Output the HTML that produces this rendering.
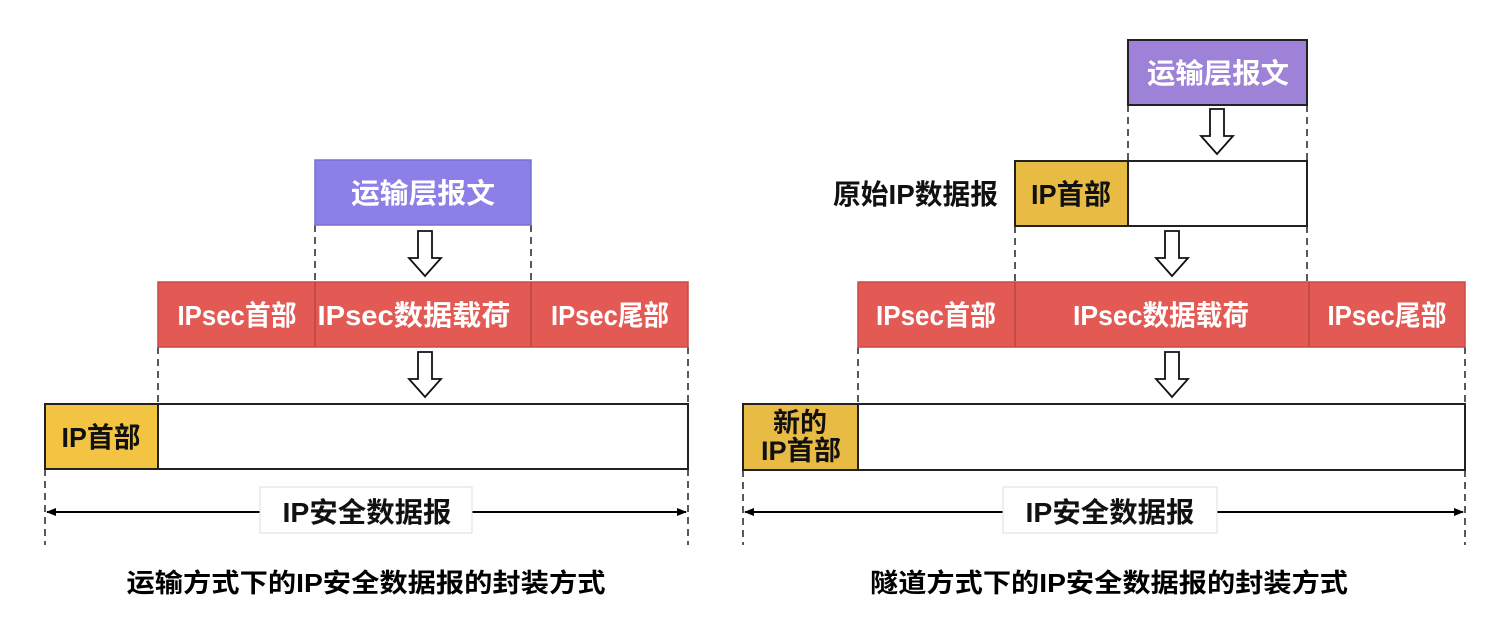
<!DOCTYPE html>
<html><head><meta charset="utf-8"><style>
html,body{margin:0;padding:0;background:#fff;}
svg text{font-family:"Liberation Sans","Noto Sans CJK SC",sans-serif;font-weight:bold;}
</style></head><body>
<svg width="1508" height="630" viewBox="0 0 1508 630" xmlns="http://www.w3.org/2000/svg">
<defs>
<marker id="ah" markerWidth="10" markerHeight="10" refX="9" refY="5" orient="auto" markerUnits="userSpaceOnUse"><path d="M0,1 L10,5 L0,9 Z" fill="#000"/></marker>
<marker id="ahs" markerWidth="10" markerHeight="10" refX="1" refY="5" orient="auto" markerUnits="userSpaceOnUse"><path d="M10,1 L0,5 L10,9 Z" fill="#000"/></marker>
</defs>
<g stroke="#222" stroke-width="1.5" stroke-dasharray="7,5" fill="none">
<!-- left -->
<line x1="315" y1="225" x2="315" y2="282"/><line x1="531" y1="225" x2="531" y2="282"/>
<line x1="158" y1="347" x2="158" y2="404"/><line x1="688" y1="347" x2="688" y2="404"/>
<line x1="45" y1="469" x2="45" y2="545"/><line x1="688" y1="469" x2="688" y2="545"/>
<!-- right -->
<line x1="1128" y1="105" x2="1128" y2="161"/><line x1="1307" y1="105" x2="1307" y2="161"/>
<line x1="1015" y1="226" x2="1015" y2="282"/><line x1="1307" y1="226" x2="1307" y2="282"/>
<line x1="858" y1="347" x2="858" y2="404"/><line x1="1465" y1="347" x2="1465" y2="404"/>
<line x1="743" y1="470" x2="743" y2="545"/><line x1="1465" y1="470" x2="1465" y2="545"/>
</g>
<!-- LEFT -->
<rect x="315" y="160" width="216" height="65" fill="#8b80e8" stroke="#7a70d0" stroke-width="1.5"/>
<text x="423" y="203" fill="#fff" font-size="28" text-anchor="middle" textLength="144" lengthAdjust="spacingAndGlyphs">运输层报文</text>
<rect x="158" y="282" width="530" height="65" fill="#e35a55" stroke="#c84a46" stroke-width="1.5"/>
<line x1="315" y1="282" x2="315" y2="347" stroke="#b84440" stroke-width="1.5"/>
<line x1="531" y1="282" x2="531" y2="347" stroke="#b84440" stroke-width="1.5"/>
<text x="237" y="325" fill="#fff" font-size="28" text-anchor="middle" textLength="119" lengthAdjust="spacingAndGlyphs">IPsec首部</text>
<text x="414" y="325" fill="#fff" font-size="28" text-anchor="middle" textLength="193" lengthAdjust="spacingAndGlyphs">IPsec数据载荷</text>
<text x="610" y="325" fill="#fff" font-size="28" text-anchor="middle" textLength="118" lengthAdjust="spacingAndGlyphs">IPsec尾部</text>
<rect x="45" y="404" width="643" height="65" fill="#fff" stroke="#222" stroke-width="2"/>
<rect x="45" y="404" width="113" height="65" fill="#f3c342" stroke="#222" stroke-width="2"/>
<text x="101" y="447" fill="#111" font-size="28" text-anchor="middle" textLength="79" lengthAdjust="spacingAndGlyphs">IP首部</text>
<line x1="47" y1="512" x2="686" y2="512" stroke="#000" stroke-width="2" marker-end="url(#ah)" marker-start="url(#ahs)"/>
<rect x="260" y="487" width="212" height="46" fill="#fff" stroke="#ddd" stroke-width="1"/>
<text x="367" y="522" fill="#111" font-size="28" text-anchor="middle" textLength="169" lengthAdjust="spacingAndGlyphs">IP安全数据报</text>
<text x="366" y="592" fill="#000" font-size="26" text-anchor="middle" textLength="479" lengthAdjust="spacingAndGlyphs">运输方式下的IP安全数据报的封装方式</text>
<!-- hollow arrows -->
<g fill="#fff" stroke="#111" stroke-width="1.8">
<path d="M418,231 H432 V258 H441 L425,276 L409,258 H418 Z"/>
<path d="M418,352 H432 V379 H441 L425,397 L409,379 H418 Z"/>
<path d="M1210,109 H1224 V136 H1233 L1217,154 L1201,136 H1210 Z"/>
<path d="M1165,231 H1179 V258 H1188 L1172,276 L1156,258 H1165 Z"/>
<path d="M1165,352 H1179 V379 H1188 L1172,397 L1156,379 H1165 Z"/>
</g>
<!-- RIGHT -->
<rect x="1128" y="40" width="179" height="65" fill="#9d82d8" stroke="#222" stroke-width="2"/>
<text x="1218" y="83" fill="#fff" font-size="28" text-anchor="middle" textLength="142" lengthAdjust="spacingAndGlyphs">运输层报文</text>
<text x="998" y="204" fill="#111" font-size="28" text-anchor="end" textLength="165" lengthAdjust="spacingAndGlyphs">原始IP数据报</text>
<rect x="1015" y="161" width="292" height="65" fill="#fff" stroke="#222" stroke-width="2"/>
<rect x="1015" y="161" width="113" height="65" fill="#e8bb45" stroke="#222" stroke-width="2"/>
<text x="1071" y="204" fill="#111" font-size="28" text-anchor="middle" textLength="80" lengthAdjust="spacingAndGlyphs">IP首部</text>
<rect x="858" y="282" width="607" height="65" fill="#e35a55" stroke="#c84a46" stroke-width="1.5"/>
<line x1="1015" y1="282" x2="1015" y2="347" stroke="#b84440" stroke-width="1.5"/>
<line x1="1309" y1="282" x2="1309" y2="347" stroke="#b84440" stroke-width="1.5"/>
<text x="936" y="325" fill="#fff" font-size="28" text-anchor="middle" textLength="120" lengthAdjust="spacingAndGlyphs">IPsec首部</text>
<text x="1161" y="325" fill="#fff" font-size="28" text-anchor="middle" textLength="176" lengthAdjust="spacingAndGlyphs">IPsec数据载荷</text>
<text x="1387" y="325" fill="#fff" font-size="28" text-anchor="middle" textLength="119" lengthAdjust="spacingAndGlyphs">IPsec尾部</text>
<rect x="743" y="404" width="722" height="66" fill="#fff" stroke="#222" stroke-width="2"/>
<rect x="743" y="404" width="115" height="66" fill="#e8bb45" stroke="#222" stroke-width="2"/>
<text x="800" y="432" fill="#111" font-size="27" text-anchor="middle" textLength="54" lengthAdjust="spacingAndGlyphs">新的</text>
<text x="801" y="460" fill="#111" font-size="27" text-anchor="middle" textLength="80" lengthAdjust="spacingAndGlyphs">IP首部</text>
<line x1="745" y1="512" x2="1463" y2="512" stroke="#000" stroke-width="2" marker-end="url(#ah)" marker-start="url(#ahs)"/>
<rect x="1003" y="487" width="214" height="46" fill="#fff" stroke="#ddd" stroke-width="1"/>
<text x="1110" y="522" fill="#111" font-size="28" text-anchor="middle" textLength="169" lengthAdjust="spacingAndGlyphs">IP安全数据报</text>
<text x="1109" y="592" fill="#000" font-size="26" text-anchor="middle" textLength="478" lengthAdjust="spacingAndGlyphs">隧道方式下的IP安全数据报的封装方式</text>
</svg>
</body></html>
